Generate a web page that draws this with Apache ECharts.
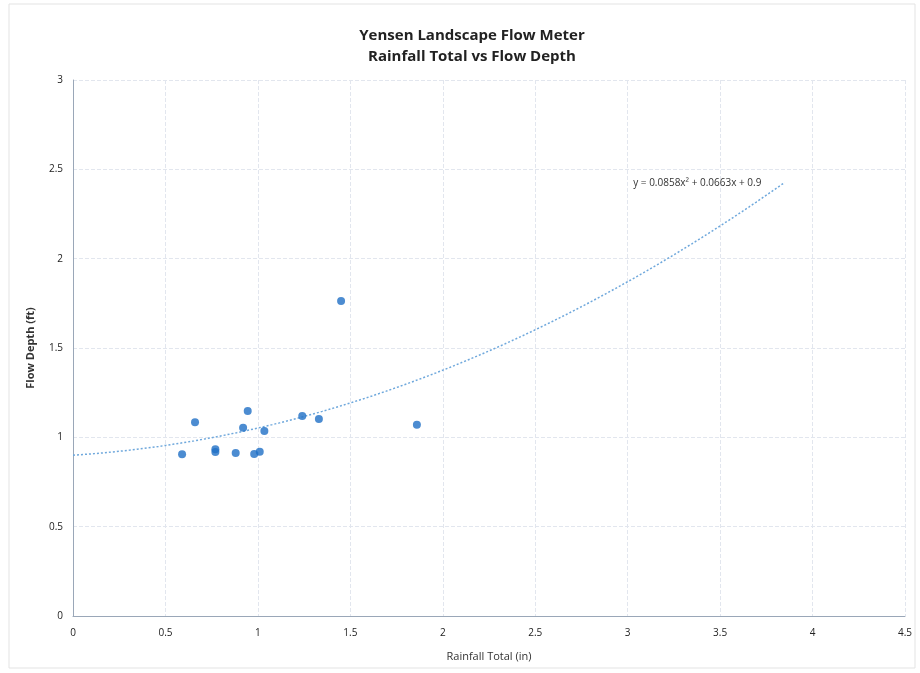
<!DOCTYPE html>
<html><head><meta charset="utf-8">
<script src="https://cdn.jsdelivr.net/npm/echarts@6/dist/echarts.min.js"></script>
<style>html,body{margin:0;padding:0;background:#fff}#c{width:920px;height:673px}</style>
</head><body><div id="c"></div>
<script>
const titleLines = ['Yensen Landscape Flow Meter', 'Rainfall Total vs Flow Depth'];
const rainfall = [0.59, 0.66, 0.77, 0.77, 0.88, 0.92, 0.945, 0.98, 1.01, 1.035, 1.24, 1.33, 1.45, 1.86];
const flowDepth = [0.905, 1.085, 0.933, 0.918, 0.912, 1.054, 1.147, 0.907, 0.919, 1.035, 1.119, 1.102, 1.763, 1.071];
const trendCoef = [0.0858, 0.0663, 0.9]; // y = a x^2 + b x + c
const trendRange = [0, 3.85];
const equationText = 'y = 0.0858x² + 0.0663x + 0.9';
const xTicks = [0, 0.5, 1, 1.5, 2, 2.5, 3, 3.5, 4, 4.5];
const yTicks = [0, 0.5, 1, 1.5, 2, 2.5, 3];

const FONT = '"Open Sans", sans-serif';
const points = rainfall.map((x, i) => [x, flowDepth[i]]);
const trend = [];
for (let i = 0; i <= 100; i++) {
  const x = trendRange[0] + (trendRange[1] - trendRange[0]) * i / 100;
  trend.push([x, trendCoef[0] * x * x + trendCoef[1] * x + trendCoef[2]]);
}

const chart = echarts.init(document.getElementById('c'), null, {renderer: 'canvas'});
chart.setOption({
  animation: false,
  backgroundColor: '#fff',
  title: {
    text: titleLines.join('\n'),
    left: 467, top: 20, textAlign: 'center',
    textStyle: {fontFamily: FONT, fontSize: 15, fontWeight: 'bold', color: '#222', lineHeight: 21}
  },
  grid: {left: 73, right: 15, top: 80, bottom: 57},
  xAxis: {
    type: 'value', min: 0, max: 4.5, interval: 0.5,
    name: 'Rainfall Total (in)', nameLocation: 'middle', nameGap: 35,
    nameTextStyle: {fontFamily: FONT, fontSize: 11, color: '#333'},
    axisLine: {show: true, lineStyle: {color: '#9aa7b8', width: 1}},
    axisTick: {show: false},
    axisLabel: {fontFamily: FONT, fontSize: 10, color: '#222', margin: 12,
      formatter: v => String(v)},
    splitLine: {show: true, lineStyle: {color: '#e2e6ee', width: 1, type: [4, 2]}}
  },
  yAxis: {
    type: 'value', min: 0, max: 3, interval: 0.5,
    name: 'Flow Depth (ft)', nameLocation: 'middle', nameGap: 37,
    nameTextStyle: {fontFamily: FONT, fontSize: 11, fontWeight: 'bold', color: '#333'},
    axisLine: {show: true, lineStyle: {color: '#9aa7b8', width: 1}},
    axisTick: {show: false},
    axisLabel: {fontFamily: FONT, fontSize: 10, color: '#222', margin: 10,
      formatter: v => String(v)},
    splitLine: {show: true, lineStyle: {color: '#e2e6ee', width: 1, type: [4, 2]}}
  },
  series: [
    {
      type: 'line', data: trend, showSymbol: false, symbol: 'none', smooth: false,
      lineStyle: {color: '#6fa8dc', width: 1.5, type: [2, 2]}, silent: true, z: 2
    },
    {
      type: 'scatter', data: points, symbol: 'circle', symbolSize: 8,
      itemStyle: {color: '#1f6fc6'}, z: 3
    }
  ],
  graphic: [
    {type: 'rect', shape: {x: 9, y: 4, width: 906, height: 664},
     style: {fill: 'none', stroke: '#e3e3e3', lineWidth: 1}, z: -10}
  ]
});
const eqPos = chart.convertToPixel({gridIndex: 0}, [3.03, 2.42]);
chart.setOption({graphic: [
  {type: 'rect', shape: {x: 9, y: 4, width: 906, height: 664},
   style: {fill: 'none', stroke: '#e3e3e3', lineWidth: 1}, z: -10},
  {type: 'text', x: eqPos[0], y: eqPos[1],
   style: {text: equationText, font: '10px ' + FONT, fill: '#333', verticalAlign: 'middle'}, z: 10}
]});
</script></body></html>
